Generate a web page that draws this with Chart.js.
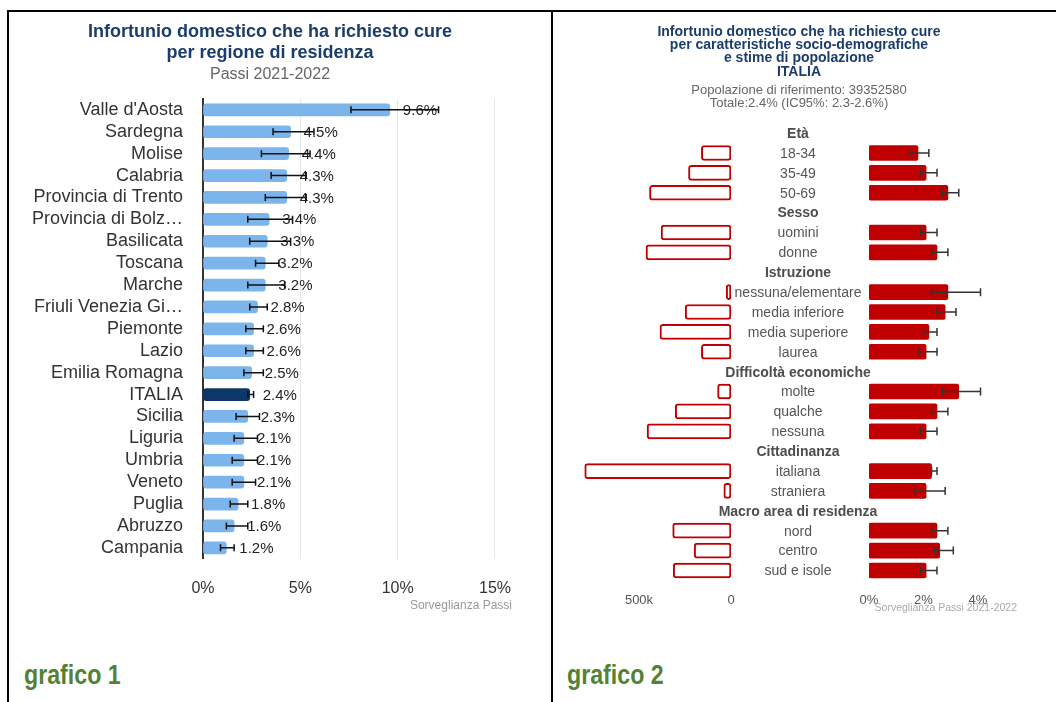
<!DOCTYPE html>
<html><head><meta charset="utf-8">
<script src="https://cdn.jsdelivr.net/npm/chart.js@4.4.1/dist/chart.umd.min.js"></script>
<style>
html,body{margin:0;padding:0;background:#fff;}
body{width:1056px;height:702px;position:relative;overflow:hidden;font-family:"Liberation Sans",Arial,sans-serif;}
.ln{position:absolute;background:#000;}
canvas{position:absolute;}
.credit{position:absolute;color:#999;white-space:nowrap;text-align:right;}
.graf{position:absolute;display:inline-block;white-space:nowrap;font-family:"Liberation Sans",Arial,sans-serif;font-weight:bold;font-size:28px;line-height:32px;color:#548235;transform-origin:0 50%;}
</style></head>
<body>
<div class="ln" style="left:7px;top:10px;width:1049px;height:2px"></div>
<div class="ln" style="left:7px;top:10px;width:2px;height:692px"></div>
<div class="ln" style="left:551px;top:10px;width:2px;height:692px"></div>

<canvas id="c1" width="522" height="606" style="left:9px;top:12px"></canvas>
<canvas id="c2r" width="492" height="608" style="left:553px;top:12px"></canvas>
<canvas id="c2l" width="190" height="608" style="left:560px;top:12px"></canvas>

<div class="credit" style="right:544px;top:597px;font-size:12px;line-height:16px">Sorveglianza Passi</div>
<div class="credit" style="right:39px;top:600px;font-size:10.5px;line-height:14px;color:#aaa">Sorveglianza Passi 2021-2022</div>

<div class="graf" id="g1" style="left:24px;top:659px">grafico 1</div>
<div class="graf" id="g2" style="left:567px;top:659px">grafico 2</div>

<script>
// ---------- Chart 1 data ----------
const regions = ["Valle d'Aosta","Sardegna","Molise","Calabria","Provincia di Trento","Provincia di Bolz…","Basilicata","Toscana","Marche","Friuli Venezia Gi…","Piemonte","Lazio","Emilia Romagna","ITALIA","Sicilia","Liguria","Umbria","Veneto","Puglia","Abruzzo","Campania"];
const regionValues = [9.6,4.5,4.4,4.3,4.3,3.4,3.3,3.2,3.2,2.8,2.6,2.6,2.5,2.4,2.3,2.1,2.1,2.1,1.8,1.6,1.2];
const regionLow  = [7.6,3.6,3.0,3.5,3.2,2.3,2.4,2.7,2.3,2.4,2.2,2.2,2.1,2.3,1.7,1.6,1.5,1.5,1.4,1.2,0.9];
const regionHigh = [12.1,5.7,5.5,5.3,5.3,4.6,4.5,3.9,4.2,3.3,3.1,3.1,3.1,2.6,2.9,2.8,2.8,2.7,2.3,2.3,1.6];
const xTicks1 = [0,5,10,15];

// ---------- Chart 2 data ----------
const rows2 = ["Età","18-34","35-49","50-69","Sesso","uomini","donne","Istruzione","nessuna/elementare","media inferiore","media superiore","laurea","Difficoltà economiche","molte","qualche","nessuna","Cittadinanza","italiana","straniera","Macro area di residenza","nord","centro","sud e isole"];
const headerRows = ["Età","Sesso","Istruzione","Difficoltà economiche","Cittadinanza","Macro area di residenza"];
const prevalence = [null,1.8,2.1,2.9,null,2.1,2.5,null,2.9,2.8,2.2,2.1,null,3.3,2.5,2.1,null,2.3,2.1,null,2.5,2.6,2.1];
const prevLow    = [null,1.5,1.9,2.7,null,1.9,2.3,null,2.3,2.5,2.0,1.8,null,2.7,2.3,1.9,null,2.3,1.7,null,2.3,2.4,1.9];
const prevHigh   = [null,2.2,2.5,3.3,null,2.5,2.9,null,4.1,3.2,2.5,2.5,null,4.1,2.9,2.5,null,2.5,2.8,null,2.9,3.1,2.5];
const population = [null,161000,231000,443000,null,380000,462000,null,26000,249000,386000,161000,null,73000,303000,456000,null,795000,39000,null,317000,200000,314000];
const pctTicks = [0,2,4];
const popTicks = [500000,0];

const FONT = '"Liberation Sans", Arial, sans-serif';
const TITLE_COLOR = '#1b3d6b';

// condense the "grafico" captions to the reference width
['g1','g2'].forEach(id => { const el = document.getElementById(id); el.style.transform = 'scaleX(' + (97 / el.offsetWidth) + ')'; });

function errorBars(low, high, color, width, cap) {
  return {
    id: 'errbars',
    afterDatasetsDraw(chart) {
      const ctx = chart.ctx, xs = chart.scales.x, meta = chart.getDatasetMeta(0);
      ctx.save(); ctx.strokeStyle = color; ctx.lineWidth = width;
      low.forEach((lo, i) => {
        if (lo == null) return;
        const y = meta.data[i].y;
        const x1 = xs.getPixelForValue(lo), x2 = xs.getPixelForValue(high[i]);
        ctx.beginPath();
        ctx.moveTo(x1, y); ctx.lineTo(x2, y);
        ctx.moveTo(x1, y - cap); ctx.lineTo(x1, y + cap);
        ctx.moveTo(x2, y - cap); ctx.lineTo(x2, y + cap);
        ctx.stroke();
      });
      ctx.restore();
    }
  };
}

const valueLabels1 = {
  id: 'vlabels',
  afterDatasetsDraw(chart) {
    const ctx = chart.ctx, xs = chart.scales.x, meta = chart.getDatasetMeta(0);
    ctx.save();
    ctx.font = '15px ' + FONT; ctx.fillStyle = '#222';
    ctx.textAlign = 'left'; ctx.textBaseline = 'middle';
    regionValues.forEach((v, i) => {
      ctx.fillText(v.toFixed(1) + '%', xs.getPixelForValue(v) + 13, meta.data[i].y + 1);
    });
    ctx.restore();
  }
};

const fixedWidth = w => function (s) { s.width = w; };

// ---------- Chart 1 ----------
new Chart(document.getElementById('c1'), {
  type: 'bar',
  data: {
    labels: regions,
    datasets: [{
      data: regionValues,
      backgroundColor: regions.map(r => r === 'ITALIA' ? '#0d3766' : '#7cb5ec'),
      barThickness: 12,
      borderRadius: 3,
      borderSkipped: false
    }]
  },
  options: {
    indexAxis: 'y', responsive: false, animation: false, devicePixelRatio: 1,
    layout: { padding: 0 },
    plugins: {
      legend: { display: false }, tooltip: { enabled: false },
      title: { display: true, text: ['Infortunio domestico che ha richiesto cure', 'per regione di residenza'],
        color: TITLE_COLOR, font: { family: FONT, size: 18, weight: 'bold' }, padding: { top: 9, bottom: 1 } },
      subtitle: { display: true, text: 'Passi 2021-2022', color: '#666',
        font: { family: FONT, size: 16 }, padding: { top: 0, bottom: 14.5 } }
    },
    scales: {
      x: {
        min: 0, max: 15,
        afterBuildTicks: s => { s.ticks = xTicks1.map(v => ({ value: v })); },
        ticks: { callback: v => v + '%', color: '#333', font: { family: FONT, size: 16 }, padding: 20 },
        grid: { color: c => (c.tick && c.tick.value === 0) ? 'rgba(0,0,0,0)' : '#e6e6e6', drawTicks: false },
        border: { display: false }
      },
      y: {
        afterFit: fixedWidth(194),
        ticks: { color: '#333', font: { family: FONT, size: 18 }, padding: 20, autoSkip: false },
        grid: { display: false, drawTicks: false },
        border: { display: true, color: '#333', width: 2 }
      },
      yR: {
        type: 'linear', position: 'right', display: true, afterFit: fixedWidth(33),
        ticks: { display: false }, grid: { display: false, drawTicks: false }, border: { display: false }
      }
    }
  },
  plugins: [valueLabels1, errorBars(regionLow, regionHigh, '#111', 1.5, 3.5)]
});

// ---------- Chart 2 right (prevalence) ----------
const centerLabels = {
  id: 'centerLabels',
  afterDraw(chart) {
    const ctx = chart.ctx, ys = chart.scales.y;
    const cx = chart.chartArea.left - 71;
    ctx.save();
    ctx.textAlign = 'center'; ctx.textBaseline = 'middle';
    rows2.forEach((lab, i) => {
      const isHead = headerRows.includes(lab);
      ctx.font = (isHead ? 'bold ' : '') + '14px ' + FONT;
      ctx.fillStyle = isHead ? '#4d4d4d' : '#555';
      ctx.fillText(lab, cx, ys.getPixelForValue(i) + 1);
    });
    ctx.restore();
  }
};

new Chart(document.getElementById('c2r'), {
  type: 'bar',
  data: {
    labels: rows2,
    datasets: [{ data: prevalence, backgroundColor: '#c00000', barThickness: 15, borderRadius: 2, borderSkipped: false }]
  },
  options: {
    indexAxis: 'y', responsive: false, animation: false, devicePixelRatio: 1,
    layout: { padding: 0 },
    plugins: {
      legend: { display: false }, tooltip: { enabled: false },
      title: { display: true,
        text: ['Infortunio domestico che ha richiesto cure', 'per caratteristiche socio-demografiche', 'e stime di popolazione', 'ITALIA'],
        color: TITLE_COLOR, font: { family: FONT, size: 14, weight: 'bold', lineHeight: 0.95 }, padding: { top: 13.35, bottom: 5 } },
      subtitle: { display: true,
        text: ['Popolazione di riferimento: 39352580', 'Totale:2.4% (IC95%: 2.3-2.6%)'],
        color: '#666', font: { family: FONT, size: 13, lineHeight: 1 }, padding: { top: 0, bottom: 13.6 } }
    },
    scales: {
      x: {
        min: 0, max: 5,
        afterBuildTicks: s => { s.ticks = pctTicks.map(v => ({ value: v })); },
        ticks: { callback: v => v + '%', color: '#555', font: { family: FONT, size: 13 }, padding: 12 },
        grid: { display: false, drawTicks: false }, border: { display: false }
      },
      y: {
        afterFit: fixedWidth(316),
        ticks: { display: false, autoSkip: false },
        grid: { display: false, drawTicks: false }, border: { display: false }
      },
      yR: {
        type: 'linear', position: 'right', display: true, afterFit: fixedWidth(40),
        ticks: { display: false }, grid: { display: false, drawTicks: false }, border: { display: false }
      }
    }
  },
  plugins: [centerLabels, errorBars(prevLow, prevHigh, '#333', 1.5, 4)]
});

// ---------- Chart 2 left (population estimates) ----------
new Chart(document.getElementById('c2l'), {
  type: 'bar',
  data: {
    labels: rows2,
    datasets: [{ data: population, backgroundColor: '#fff', borderColor: '#c00000', borderWidth: 2,
      barThickness: 15, borderRadius: 3, borderSkipped: false }]
  },
  options: {
    indexAxis: 'y', responsive: false, animation: false, devicePixelRatio: 1,
    layout: { padding: { top: 111.15, left: 14.6, right: 19, bottom: 0 } },
    plugins: { legend: { display: false }, tooltip: { enabled: false } },
    scales: {
      x: {
        reverse: true, min: 0, max: 850000,
        afterBuildTicks: s => { s.ticks = popTicks.map(v => ({ value: v })); },
        ticks: { callback: v => v === 0 ? '0' : (v / 1000) + 'k', color: '#555', font: { family: FONT, size: 13 }, padding: 12 },
        grid: { display: false, drawTicks: false }, border: { display: false }
      },
      y: { display: false, ticks: { autoSkip: false } }
    }
  }
});
</script>
</body></html>
